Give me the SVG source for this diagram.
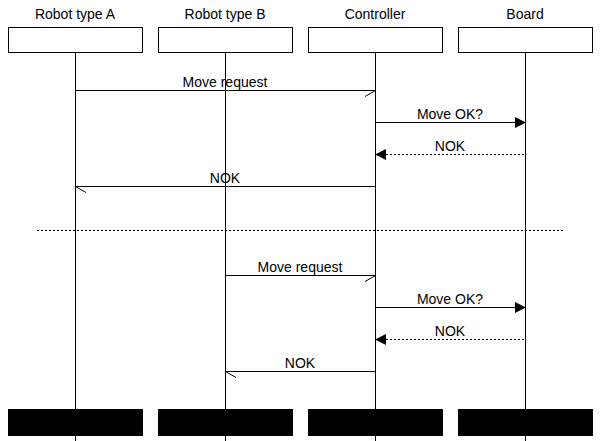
<svg xmlns="http://www.w3.org/2000/svg" width="600" height="441" viewBox="0 0 600 441">
<style>
text{font-family:"Liberation Sans",Arial,sans-serif;font-size:14px;fill:#000;text-anchor:middle}
.box{fill:#fff;stroke:#000;stroke-width:1}
.endbox{fill:#000;stroke:#000;stroke-width:1}
.life{stroke:#000;stroke-width:1}
.msg{stroke:#000;stroke-width:1;fill:none}
.dash{stroke-dasharray:2,2}
.head{fill:#000;stroke:none}
</style>
<rect width="600" height="441" fill="#fff"/>
<g id="lifelines">
<line class="life" x1="75.5" y1="52" x2="75.5" y2="441"/>
<line class="life" x1="225.5" y1="52" x2="225.5" y2="441"/>
<line class="life" x1="375.5" y1="52" x2="375.5" y2="441"/>
<line class="life" x1="525.5" y1="52" x2="525.5" y2="441"/>
</g>
<g id="robotA">
<text x="75" y="19">Robot type A</text>
<rect class="box" x="8.5" y="27.5" width="134" height="25"/>
<rect class="endbox" x="8.5" y="409.5" width="134" height="26"/>
</g>
<g id="robotB">
<text x="225" y="19">Robot type B</text>
<rect class="box" x="158.5" y="27.5" width="134" height="25"/>
<rect class="endbox" x="158.5" y="409.5" width="134" height="26"/>
</g>
<g id="controller">
<text x="375" y="19">Controller</text>
<rect class="box" x="308.5" y="27.5" width="134" height="25"/>
<rect class="endbox" x="308.5" y="409.5" width="134" height="26"/>
</g>
<g id="board">
<text x="525" y="19">Board</text>
<rect class="box" x="458.5" y="27.5" width="134" height="25"/>
<rect class="endbox" x="458.5" y="409.5" width="134" height="26"/>
</g>
<g id="connectors">
<line class="msg" x1="75.5" y1="90.5" x2="375.5" y2="90.5"/>
<line class="msg" x1="375.5" y1="90.5" x2="365" y2="96.5"/>
<text x="225" y="87">Move request</text>
<line class="msg" x1="375.5" y1="122.5" x2="516" y2="122.5"/>
<polygon class="head" points="515,117 526,122.5 515,128"/>
<text x="450" y="119">Move OK?</text>
<line class="msg dash" x1="386" y1="154.5" x2="525.5" y2="154.5"/>
<polygon class="head" points="386,149 375,154.5 386,160"/>
<text x="450" y="151">NOK</text>
<line class="msg" x1="75.5" y1="186.5" x2="375.5" y2="186.5"/>
<line class="msg" x1="75.5" y1="186.5" x2="86" y2="192.5"/>
<text x="225" y="183">NOK</text>
<line class="msg dash" x1="37" y1="230.5" x2="564" y2="230.5"/>
<line class="msg" x1="225.5" y1="275.5" x2="375.5" y2="275.5"/>
<line class="msg" x1="375.5" y1="275.5" x2="365" y2="281.5"/>
<text x="300" y="272">Move request</text>
<line class="msg" x1="375.5" y1="307.5" x2="516" y2="307.5"/>
<polygon class="head" points="515,302 526,307.5 515,313"/>
<text x="450" y="304">Move OK?</text>
<line class="msg dash" x1="386" y1="339.5" x2="525.5" y2="339.5"/>
<polygon class="head" points="386,334 375,339.5 386,345"/>
<text x="450" y="336">NOK</text>
<line class="msg" x1="225.5" y1="371.5" x2="375.5" y2="371.5"/>
<line class="msg" x1="225.5" y1="371.5" x2="236" y2="377.5"/>
<text x="300" y="368">NOK</text>
</g>
</svg>
